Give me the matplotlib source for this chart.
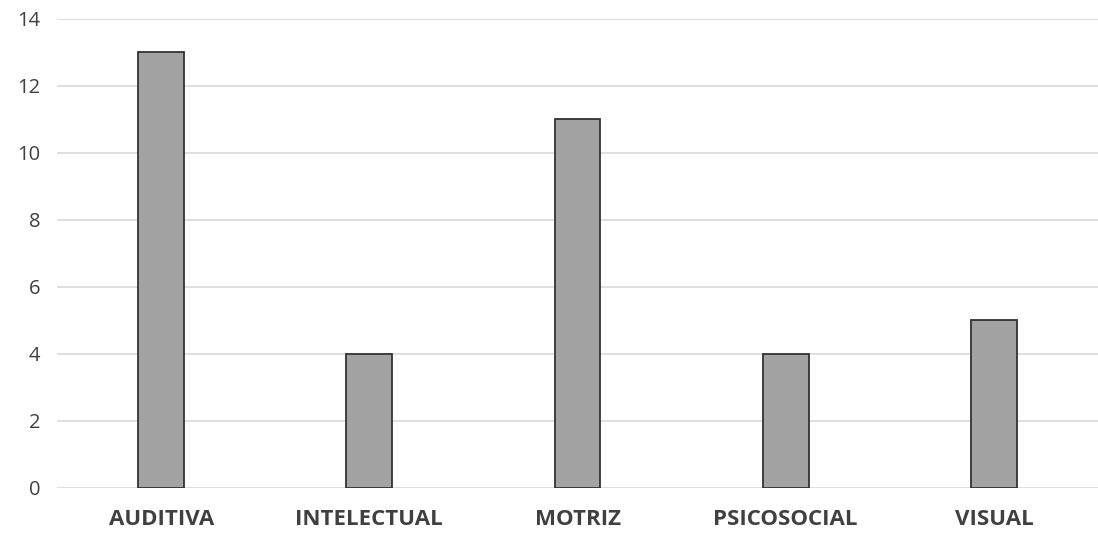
import numpy as np
import matplotlib.pyplot as plt

categories = ['AUDITIVA', 'INTELECTUAL', 'MOTRIZ', 'PSICOSOCIAL', 'VISUAL']
values = [13, 4, 11, 4, 5]
yticks = [0, 2, 4, 6, 8, 10, 12, 14]

plt.rcParams['font.family'] = ['Open Sans', 'DejaVu Sans']

fig = plt.figure(figsize=(10.98, 5.36), dpi=100)
ax = fig.add_axes([0.052, 0.0896, 0.948, 0.875])

x = np.arange(len(categories))
ax.bar(x, values, width=0.22, color='#a3a3a3', edgecolor='#333333', linewidth=1.3, zorder=3)

ax.set_xlim(-0.5, len(categories) - 0.5)
ax.set_ylim(0, 14)
ax.set_yticks(yticks)
ax.yaxis.grid(True, color='#d9d9d9', linewidth=1.2, zorder=0)
ax.set_xticks(x)
ax.set_xticklabels(categories, fontsize=16, fontweight='bold', color='#404040')
ax.tick_params(axis='x', length=0, pad=15)
ax.tick_params(axis='y', length=0, pad=12, labelsize=14.5, labelcolor='#404040')
for s in ax.spines.values():
    s.set_visible(False)

plt.savefig('out.png', dpi=100)
